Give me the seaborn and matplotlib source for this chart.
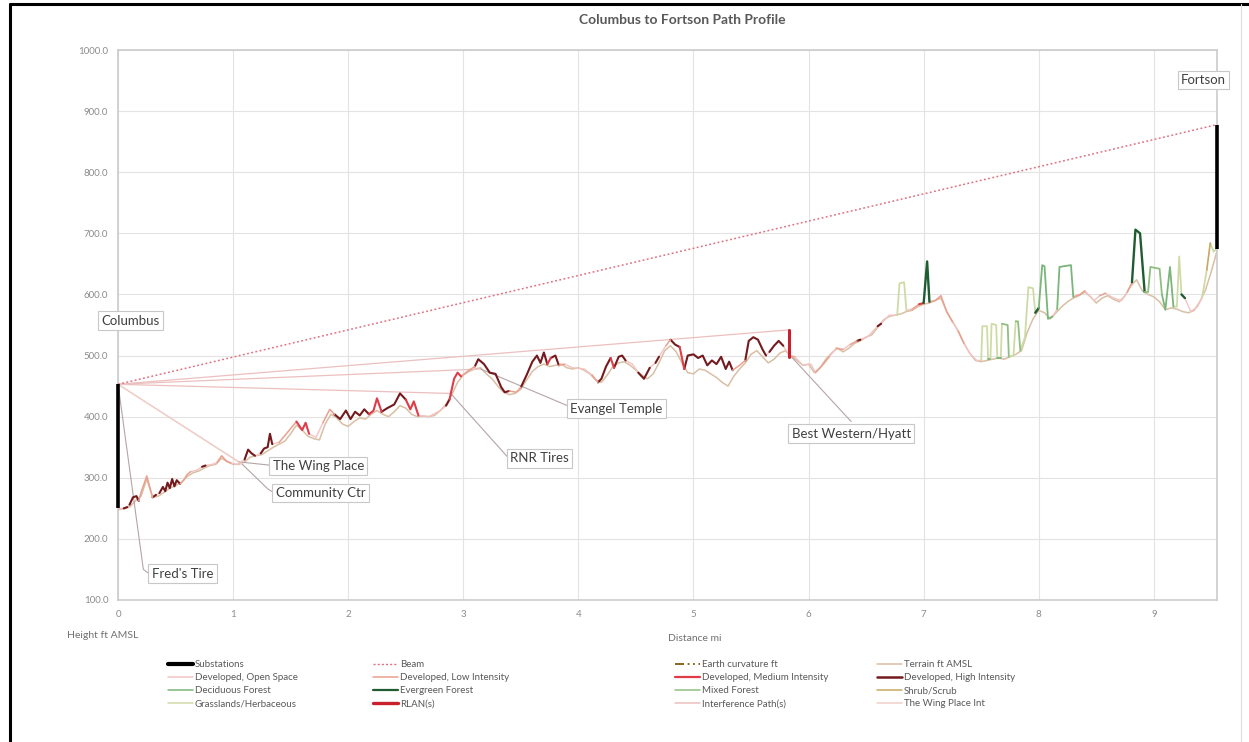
import matplotlib
matplotlib.use('Agg')
import matplotlib.pyplot as plt
from matplotlib.lines import Line2D
import numpy as np
import pandas as pd
import seaborn as sns

# ground profile, ft AMSL, one value every 0.05 mi (20 per mile)
terrain_ft = [
    248, 249, 252, 262, 270, 298, 268, 270, 276, 283, 287, 292, 302, 308, 311, 316, 320, 322, 332, 326,
    322, 322, 326, 334, 336, 338, 344, 350, 355, 360, 372, 386, 378, 368, 364, 362, 388, 404, 398, 388,
    384, 392, 398, 396, 404, 410, 404, 400, 408, 418, 414, 404, 400, 401, 400, 402, 410, 420, 436, 456,
    468, 474, 478, 480, 470, 462, 450, 440, 436, 438, 445, 460, 474, 482, 486, 482, 484, 486, 480, 478,
    480, 476, 470, 460, 456, 468, 482, 488, 490, 484, 476, 468, 462, 470, 488, 508, 516, 506, 488, 472,
    470, 478, 476, 470, 464, 456, 450, 466, 478, 488, 502, 508, 498, 488, 494, 504, 508, 498, 492, 484,
    486, 472, 480, 494, 504, 512, 506, 512, 520, 524, 530, 534, 546, 558, 564, 566, 568, 572, 574, 580,
    584, 586, 590, 594, 572, 556, 540, 520, 504, 492, 490, 492, 494, 496, 494, 498, 502, 508, 538, 560,
    574, 570, 560, 570, 580, 588, 594, 598, 604, 596, 586, 594, 598, 592, 588, 598, 614, 624, 606, 600,
    596, 588, 575, 578, 576, 572, 570, 574, 588, 608, 638, 672,
]
terrain_mi = [round(0.05 * i, 2) for i in range(len(terrain_ft))]

# land cover (clutter top) line; class code applies to the segment starting at that vertex
cover_mi = [
    0.00, 0.05, 0.08, 0.10, 0.13, 0.16, 0.18, 0.20, 0.25, 0.30, 0.33, 0.36, 0.39, 0.41, 0.43, 0.45, 0.47, 0.49, 0.51, 0.54,
    0.57, 0.60, 0.63, 0.68, 0.73, 0.76, 0.82, 0.86, 0.90, 0.94, 0.98, 1.04, 1.10, 1.13, 1.16, 1.19, 1.24, 1.27, 1.30, 1.32,
    1.34, 1.40, 1.48, 1.55, 1.60, 1.63, 1.66, 1.72, 1.78, 1.84, 1.88, 1.93, 1.98, 2.02, 2.06, 2.10, 2.14, 2.18, 2.22, 2.25,
    2.29, 2.34, 2.40, 2.45, 2.50, 2.54, 2.57, 2.61, 2.70, 2.80, 2.85, 2.88, 2.92, 2.95, 2.98, 3.05, 3.10, 3.13, 3.18, 3.23,
    3.28, 3.33, 3.36, 3.40, 3.46, 3.50, 3.55, 3.60, 3.64, 3.67, 3.70, 3.73, 3.76, 3.80, 3.83, 3.88, 3.95, 4.05, 4.12, 4.17,
    4.20, 4.24, 4.28, 4.31, 4.35, 4.38, 4.41, 4.47, 4.52, 4.57, 4.62, 4.67, 4.70, 4.76, 4.80, 4.84, 4.88, 4.92, 4.95, 5.00,
    5.04, 5.08, 5.12, 5.16, 5.20, 5.24, 5.28, 5.31, 5.34, 5.40, 5.45, 5.48, 5.52, 5.56, 5.60, 5.63, 5.66, 5.70, 5.74, 5.78,
    5.83, 5.88, 5.95, 6.02, 6.06, 6.12, 6.18, 6.24, 6.30, 6.36, 6.42, 6.45, 6.52, 6.60, 6.63, 6.70, 6.77, 6.79, 6.83, 6.85,
    6.90, 6.96, 7.00, 7.03, 7.05, 7.10, 7.15, 7.20, 7.25, 7.30, 7.35, 7.40, 7.46, 7.50, 7.51, 7.55, 7.56, 7.58, 7.59, 7.63,
    7.64, 7.67, 7.68, 7.73, 7.74, 7.78, 7.80, 7.82, 7.84, 7.88, 7.91, 7.95, 7.97, 8.00, 8.03, 8.05, 8.08, 8.12, 8.16, 8.18,
    8.28, 8.30, 8.36, 8.40, 8.48, 8.53, 8.58, 8.65, 8.72, 8.77, 8.81, 8.84, 8.88, 8.92, 8.95, 8.97, 9.05, 9.07, 9.10, 9.14,
    9.17, 9.20, 9.22, 9.24, 9.27, 9.32, 9.38, 9.42, 9.46, 9.49, 9.52, 9.55,
]
cover_ft = [
    250, 250, 252, 256, 268, 270, 262, 276, 303, 268, 272, 275, 285, 278, 292, 283, 298, 286, 296, 290,
    296, 305, 310, 312, 318, 320, 322, 325, 336, 328, 324, 322, 330, 346, 340, 336, 340, 348, 350, 372,
    355, 358, 376, 392, 378, 390, 372, 366, 390, 412, 404, 396, 410, 396, 408, 402, 412, 404, 410, 430,
    408, 414, 420, 438, 428, 412, 425, 402, 400, 410, 418, 428, 462, 472, 466, 476, 482, 494, 486, 472,
    470, 448, 440, 442, 440, 448, 468, 490, 500, 488, 505, 486, 496, 500, 484, 486, 480, 478, 468, 456,
    462, 482, 496, 480, 498, 500, 492, 486, 472, 462, 480, 488, 498, 516, 526, 518, 514, 478, 500, 502,
    496, 500, 484, 492, 486, 498, 478, 490, 476, 484, 492, 524, 530, 526, 510, 500, 506, 516, 524, 516,
    500, 498, 484, 486, 472, 484, 498, 512, 510, 518, 524, 526, 532, 548, 552, 566, 566, 618, 620, 574,
    576, 584, 586, 654, 588, 590, 598, 572, 555, 540, 520, 504, 492, 492, 548, 548, 494, 494, 552, 550,
    496, 496, 552, 550, 498, 500, 556, 556, 508, 530, 612, 610, 570, 578, 648, 646, 560, 564, 576, 645,
    648, 596, 600, 606, 590, 598, 602, 594, 590, 604, 620, 706, 700, 604, 604, 645, 642, 600, 575, 645,
    580, 580, 662, 600, 594, 572, 580, 596, 640, 684, 670, 676,
]
cover_cls = (
    "OHOHHHLLLHOHHHHHHHHL"
    "LLOOHOOLLLOOHHHOHHHH"
    "OLLMMMOOLLHHHHHHHMMM"
    "HHHHMMMOOOHMMMLLHHHH"
    "HHHLLHHHHHHMHHLOOOLH"
    "HHMHHHOOHHOHOLHHMHHH"
    "HHHHHHHHLLHHHHHOHHHO"
    "LOOOLLOLOLHOOHOOGGGO"
    "LMEELLLLOLOOOGGGDGGG"
    "DGXXGGXXGGGGEDDDDODD"
    "DLLOOLOOOLEEEXXXXDDD"
    "GGGEOOOGSGGG"
)

cover_names = {
    'O': 'Developed, Open Space', 'L': 'Developed, Low Intensity',
    'M': 'Developed, Medium Intensity', 'H': 'Developed, High Intensity',
    'D': 'Deciduous Forest', 'E': 'Evergreen Forest', 'X': 'Mixed Forest',
    'S': 'Shrub/Scrub', 'G': 'Grasslands/Herbaceous',
}

# sites and paths
site_names = ['Columbus', 'Fortson']
site_mi = [0.0, 9.55]
site_ground_ft = [250, 674]
site_antenna_ft = [453, 878]

interf_names = ['Best Western/Hyatt', 'Evangel Temple', 'RNR Tires', 'The Wing Place']
interf_mi = [5.83, 3.15, 2.89, 1.05]
interf_ft = [542, 478, 438, 326]
wing_int_mi, wing_int_ft = 1.08, 322
rlan_mi, rlan_ft = 5.83, [498, 542]

# data labels
label_text = ['Columbus', 'Fortson', "Fred's Tire", 'The Wing Place', 'Community Ctr',
              'RNR Tires', 'Evangel Temple', 'Best Western/Hyatt']
label_mi = [0.11, 9.43, 0.56, 1.74, 1.76, 3.66, 4.33, 6.37]
label_ft = [557, 951, 143, 319, 275, 332, 413, 372]

pal = {
    'Substations': '#000000', 'Beam': '#e07080', 'Earth curvature ft': '#7f5a10',
    'Terrain ft AMSL': '#d9bfa3', 'Developed, Open Space': '#f3c3c3',
    'Developed, Low Intensity': '#eaa090', 'Developed, Medium Intensity': '#df3c48',
    'Developed, High Intensity': '#741a1e', 'Deciduous Forest': '#7ab57a',
    'Evergreen Forest': '#1f5c32', 'Mixed Forest': '#8fbf80', 'Shrub/Scrub': '#c8a860',
    'Grasslands/Herbaceous': '#cfdba6', 'RLAN(s)': '#c8202c',
    'Interference Path(s)': '#ecc0c0', 'The Wing Place Int': '#f0d0c8',
}
widths = {
    'Developed, Open Space': 1.0, 'Developed, Low Intensity': 1.1,
    'Developed, Medium Intensity': 1.5, 'Developed, High Intensity': 1.5,
    'Deciduous Forest': 1.3, 'Evergreen Forest': 1.7, 'Mixed Forest': 1.3,
    'Shrub/Scrub': 1.2, 'Grasslands/Herbaceous': 1.3,
}

sns.set_theme(style='whitegrid')
plt.rcParams['font.family'] = ['Lato', 'DejaVu Sans']

fig = plt.figure(figsize=(12.49, 7.42), dpi=100)
ax = fig.add_axes([0.0945, 0.1914, 0.88, 0.7412])

# terrain
ter = pd.DataFrame({'mi': terrain_mi, 'ft': terrain_ft})
sns.lineplot(data=ter, x='mi', y='ft', ax=ax, color=pal['Terrain ft AMSL'], lw=1.1, zorder=2)

# land cover runs
assert len(cover_mi) == len(cover_ft) == len(cover_cls)
rows, run = [], 0
for i in range(len(cover_mi) - 1):
    if i > 0 and cover_cls[i] != cover_cls[i - 1]:
        run += 1
    name = cover_names[cover_cls[i]]
    rows.append([run, name, cover_mi[i], cover_ft[i]])
    rows.append([run, name, cover_mi[i + 1], cover_ft[i + 1]])
cov = pd.DataFrame(rows, columns=['run', 'cover', 'mi', 'ft']).drop_duplicates()
sns.lineplot(data=cov, x='mi', y='ft', hue='cover', size='cover', units='run', estimator=None,
             sort=False, palette={k: pal[k] for k in widths}, sizes=widths, legend=False, ax=ax, zorder=3)

# interference paths
for m, f in zip(interf_mi, interf_ft):
    ax.plot([0, m], [site_antenna_ft[0], f], color=pal['Interference Path(s)'], lw=0.9, zorder=2.5)
ax.plot([0, wing_int_mi], [site_antenna_ft[0], wing_int_ft], color=pal['The Wing Place Int'], lw=0.9, zorder=2.5)

# beam
beam = pd.DataFrame({'mi': site_mi, 'ft': site_antenna_ft})
sns.lineplot(data=beam, x='mi', y='ft', ax=ax, color=pal['Beam'], lw=1.1, ls=(0, (1.2, 1.6)), zorder=4)

# RLAN and substations
ax.plot([rlan_mi, rlan_mi], rlan_ft, color=pal['RLAN(s)'], lw=2.2, zorder=5)
for m, g, a in zip(site_mi, site_ground_ft, site_antenna_ft):
    ax.plot([m, m], [g, a], color='black', lw=2.6, zorder=6, clip_on=False, solid_capstyle='butt')

# leader lines
lead = '#b5a5a5'
ax.plot([0, 0.22, 0.27], [453, 150, 143], color=lead, lw=0.8, zorder=2.5)
ax.plot([interf_mi[3], 1.35], [interf_ft[3], 320], color=lead, lw=0.8, zorder=2.5)
ax.plot([wing_int_mi, 1.30, 1.35], [wing_int_ft, 282, 276], color=lead, lw=0.8, zorder=2.5)
ax.plot([interf_mi[2], 3.38], [interf_ft[2], 335], color=lead, lw=0.8, zorder=2.5)
ax.plot([interf_mi[1], 3.93], [interf_ft[1], 416], color=lead, lw=0.8, zorder=2.5)
ax.plot([5.85, 6.37], [498, 392], color=lead, lw=0.8, zorder=2.5)

for t, m, f in zip(label_text, label_mi, label_ft):
    ax.text(m, f, t, ha='center', va='center', fontsize=9.5, color='#404040', zorder=7, clip_on=False,
            bbox=dict(boxstyle='square,pad=0.25', fc='white', ec='#c8c8c8', lw=0.8))

ax.set_xlim(0, 9.55)
ax.set_ylim(100, 1000)
ax.set_xticks(range(10))
ax.set_yticks(np.arange(100, 1001, 100))
ax.set_yticklabels([f'{v:.1f}' for v in np.arange(100, 1001, 100)])
ax.tick_params(axis='both', labelsize=7, colors='#8c8c8c', length=0, pad=7)
ax.grid(True, color='#e3e3e3', lw=0.8)
for s in ax.spines.values():
    s.set_color('#cccccc')
    s.set_linewidth(1.2)
ax.set_xlabel('')
ax.set_ylabel('')

fig.text(0.5465, 0.973, 'Columbus to Fortson Path Profile', ha='center', va='center',
         fontsize=10, fontweight='bold', color='#595959')
fig.text(0.054, 0.143, 'Height ft AMSL', ha='left', va='center', fontsize=7.5, color='#707070')
fig.text(0.556, 0.139, 'Distance mi', ha='center', va='center', fontsize=7.5, color='#707070')

# legend, four columns placed like the original
legend_cols = [
    ['Substations', 'Developed, Open Space', 'Deciduous Forest', 'Grasslands/Herbaceous'],
    ['Beam', 'Developed, Low Intensity', 'Evergreen Forest', 'RLAN(s)'],
    ['Earth curvature ft', 'Developed, Medium Intensity', 'Mixed Forest', 'Interference Path(s)'],
    ['Terrain ft AMSL', 'Developed, High Intensity', 'Shrub/Scrub', 'The Wing Place Int'],
]
legend_x = [0.1345, 0.2986, 0.5404, 0.7022]
style = {'Substations': dict(lw=3), 'Beam': dict(lw=1, ls=(0, (1.5, 1.5))),
         'Earth curvature ft': dict(lw=1.3, ls=(0, (5, 2, 1, 2, 1, 2))),
         'Developed, Medium Intensity': dict(lw=1.6), 'Developed, High Intensity': dict(lw=1.8),
         'Evergreen Forest': dict(lw=1.6), 'RLAN(s)': dict(lw=2.4)}
for col, x in zip(legend_cols, legend_x):
    hs = [Line2D([], [], color=pal[n], **style.get(n, dict(lw=1.1))) for n in col]
    fig.legend(hs, col, loc='upper left', bbox_to_anchor=(x, 0.1105), frameon=False, fontsize=7,
               handlelength=2.6, handletextpad=0.15, labelspacing=0.42, borderpad=0, borderaxespad=0,
               labelcolor='#595959')

# outer frame
fig.add_artist(Line2D([0.008, 0.008], [0, 0.994], color='black', lw=2.2, transform=fig.transFigure))
fig.add_artist(Line2D([0.008, 1.0], [0.994, 0.994], color='black', lw=2.2, transform=fig.transFigure))
fig.add_artist(Line2D([0.9935, 0.9935], [0, 0.994], color='#dddddd', lw=0.8, transform=fig.transFigure))

fig.savefig('out.png', dpi=100, facecolor='white')
